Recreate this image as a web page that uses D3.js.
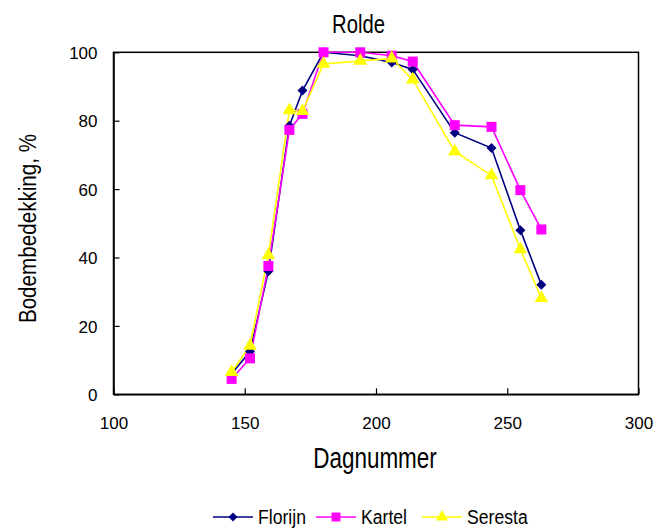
<!DOCTYPE html>
<html>
<head>
<meta charset="utf-8">
<script src="https://cdn.jsdelivr.net/npm/d3@7"></script>
<style>
  body { margin: 0; background: #fff; }
  svg text { font-family: "Liberation Sans", Arial, sans-serif; fill: #000; }
</style>
</head>
<body>
<svg id="chart" width="653" height="528"></svg>
<script>
// Dagnummer (x) en bodembedekking (%) per ras
const days    = [145, 152, 159, 167, 172, 180, 194, 206, 214, 230, 244, 255, 263];
const florijn = [6, 12.5, 36, 78.5, 88.8, 100, 99, 97, 95, 76.5, 72, 48, 32];
const kartel  = [4.5, 10.5, 37.5, 77.3, 82, 100, 100, 99, 97.3, 78.7, 78.2, 59.7, 48.2];
const seresta = [6.5, 14.2, 40.7, 83, 82.8, 96.6, 97.5, 98.2, 92, 71, 64, 42.4, 28.1];
const xTicks  = [100, 150, 200, 250, 300];
const yTicks  = [0, 20, 40, 60, 80, 100];

const series = [
  { name: 'Florijn', values: florijn, color: '#000080', shape: d3.symbolSquare,   size: 50, rot: 45 },
  { name: 'Kartel',  values: kartel,  color: '#FF00FF', shape: d3.symbolSquare,   size: 100, rot: 0 },
  { name: 'Seresta', values: seresta, color: '#FFFF00', shape: d3.symbolTriangle, size: 80, rot: 0 }
];

const svg = d3.select('#chart');
const plotL = 113.5, plotR = 638.5, plotT = 52.3, plotB = 394.3;

const x = d3.scaleLinear().domain([100, 300]).range([plotL, plotR]);
const y = d3.scaleLinear().domain([0, 100]).range([plotB, plotT]);

// smalle letter nabootsen: tekst horizontaal samendrukken
function label(px, py, str, size, sx, anchor = 'middle', rot = 0) {
  return svg.append('text')
    .attr('transform', `translate(${px},${py}) rotate(${rot}) scale(${sx},1)`)
    .attr('text-anchor', anchor)
    .attr('font-size', size)
    .text(str);
}

// plotvlak-kader
svg.append('rect')
  .attr('x', plotL).attr('y', plotT)
  .attr('width', plotR - plotL).attr('height', plotB - plotT)
  .attr('fill', 'none').attr('stroke', '#000').attr('stroke-width', 1.5);

// assen met ticks naar binnen
const xAxis = svg.append('g')
  .attr('transform', `translate(0,${plotB})`)
  .call(d3.axisBottom(x).tickValues(xTicks).tickSizeInner(-6).tickSizeOuter(0).tickPadding(0));
const yAxis = svg.append('g')
  .attr('transform', `translate(${plotL},0)`)
  .call(d3.axisLeft(y).tickValues(yTicks).tickSizeInner(-6).tickSizeOuter(0).tickPadding(16));

[xAxis, yAxis].forEach(g => {
  g.attr('font-family', null);
  g.select('.domain').attr('stroke', '#000').attr('stroke-width', 1.5);
  g.selectAll('.tick line').attr('stroke', '#000').attr('stroke-width', 1.2);
  g.selectAll('.tick text').attr('font-size', 17);
});
xAxis.selectAll('.tick text').attr('y', 35).attr('dy', null);
yAxis.selectAll('.tick text').attr('dy', '0.36em');

// lijnen en markers
const line = d3.line()
  .x((d, i) => x(days[i]))
  .y(d => y(d));

series.forEach(s => {
  svg.append('path')
    .datum(s.values)
    .attr('d', line)
    .attr('fill', 'none')
    .attr('stroke', s.color)
    .attr('stroke-width', 1.6);
});

series.forEach(s => {
  const sym = d3.symbol().type(s.shape).size(s.size);
  svg.append('g').selectAll('path')
    .data(s.values)
    .join('path')
    .attr('d', sym)
    .attr('transform', (d, i) => `translate(${x(days[i])},${y(d)}) rotate(${s.rot})`)
    .attr('fill', s.color);
});

// titels
label(358.5, 33, 'Rolde', 25, 0.81);
label(375, 468, 'Dagnummer', 29, 0.775);
label(36, 228.5, 'Bodembedekking, %', 24, 0.86, 'middle', -90);

// legenda
const legendX = [213, 316, 422];
series.forEach((s, i) => {
  const g = svg.append('g').attr('transform', `translate(${legendX[i]},517)`);
  g.append('line')
    .attr('x1', 0).attr('x2', 40)
    .attr('stroke', s.color).attr('stroke-width', 1.6);
  g.append('path')
    .attr('d', d3.symbol().type(s.shape).size(s.size * 0.8)())
    .attr('transform', `translate(20,0) rotate(${s.rot})`)
    .attr('fill', s.color);
  label(legendX[i] + 45, 523.5, s.name, 21, 0.84, 'start');
});
</script>
</body>
</html>
